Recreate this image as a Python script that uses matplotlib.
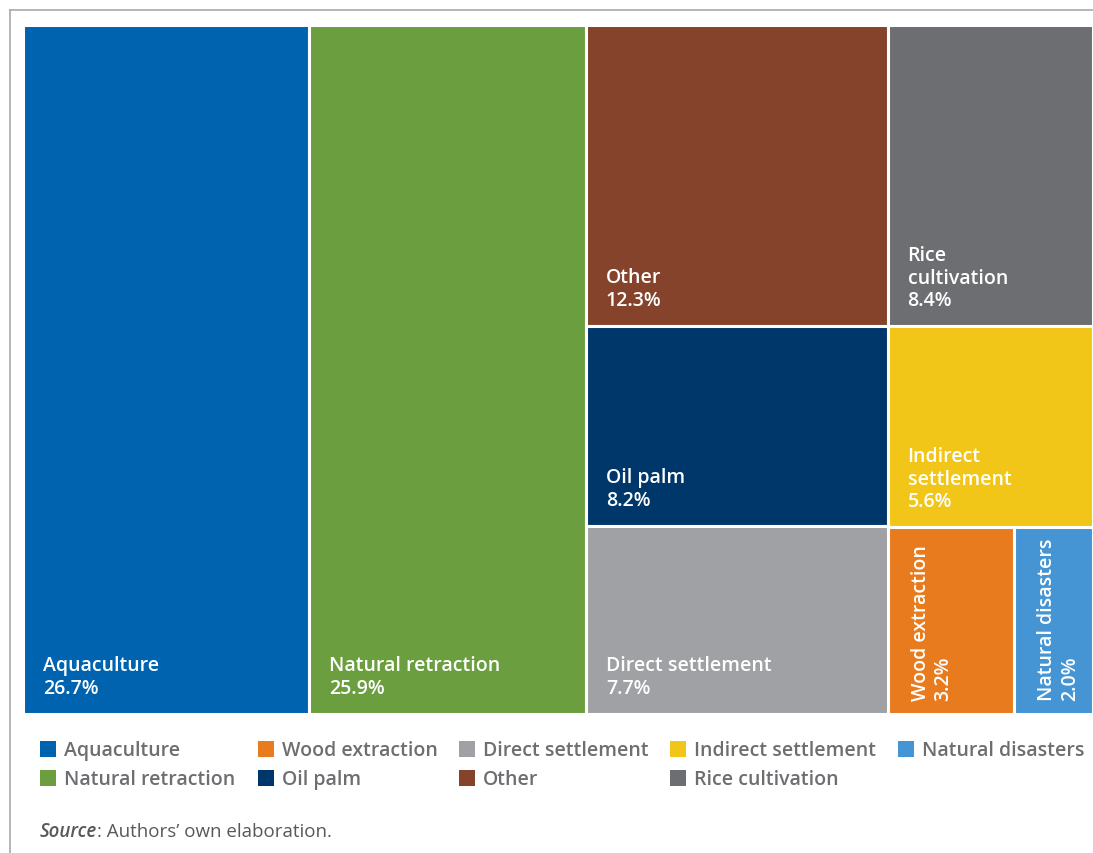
import matplotlib
matplotlib.use("Agg")
import matplotlib.pyplot as plt
from matplotlib.patches import Rectangle
from matplotlib.lines import Line2D
from matplotlib.transforms import offset_copy

# Shares of mangrove loss by driver (%)
categories = ["Aquaculture", "Natural retraction", "Other", "Oil palm",
              "Direct settlement", "Rice cultivation", "Indirect settlement",
              "Wood extraction", "Natural disasters"]
shares = [26.7, 25.9, 12.3, 8.2, 7.7, 8.4, 5.6, 3.2, 2.0]
colors = ["#0063af", "#6b9e3f", "#84432a", "#00376b", "#a0a1a4",
          "#6d6e71", "#f2c618", "#e87b1e", "#4594d3"]
# Wrapped labels for the tiles
tile_labels = ["Aquaculture", "Natural retraction", "Other", "Oil palm",
               "Direct settlement", "Rice\ncultivation", "Indirect\nsettlement",
               "Wood extraction", "Natural disasters"]
# Tile arrangement: columns, each a stack of rows; a tuple row is split side by side
columns = [["Aquaculture"],
           ["Natural retraction"],
           ["Other", "Oil palm", "Direct settlement"],
           ["Rice cultivation", "Indirect settlement",
            ("Wood extraction", "Natural disasters")]]
legend_order = ["Aquaculture", "Natural retraction", "Wood extraction", "Oil palm",
                "Direct settlement", "Other", "Indirect settlement",
                "Rice cultivation", "Natural disasters"]
source_note = ("Source", ": Authors\u2019 own elaboration.")

share = dict(zip(categories, shares))
color = dict(zip(categories, colors))
label = dict(zip(categories, tile_labels))

W, H = 1093, 854
fig = plt.figure(figsize=(W / 100, H / 100), dpi=100)
plt.rcParams["font.family"] = ["Open Sans", "DejaVu Sans"]
FS = 14

ax_l, ax_r, ax_t, ax_b = 23, 1093, 26, 715
ax = fig.add_axes([ax_l / W, 1 - ax_b / H, (ax_r - ax_l) / W, (ax_b - ax_t) / H])
ax.set_xlim(0, 1)
ax.set_ylim(1, 0)
ax.axis("off")

px_w = ax_r - ax_l
total = sum(shares)


def row_value(row):
    if isinstance(row, tuple):
        return sum(share[c] for c in row)
    return share[row]


def draw_tile(name, x0, y0, w, h):
    ax.add_patch(Rectangle((x0, y0), w, h, facecolor=color[name],
                           edgecolor="white", linewidth=2.2))
    txt = f"{label[name]}\n{share[name]:.1f}%"
    if w * px_w < 150:
        tr = offset_copy(ax.transData, fig=fig, x=23, y=14, units="dots")
        ax.text(x0, y0 + h, txt, transform=tr, rotation=90,
                rotation_mode="anchor", ha="left", va="top",
                color="white", fontsize=FS, fontweight="semibold", linespacing=1.18)
    else:
        tr = offset_copy(ax.transData, fig=fig, x=20, y=16, units="dots")
        ax.text(x0, y0 + h, txt, transform=tr, ha="left", va="bottom",
                color="white", fontsize=FS, fontweight="semibold", linespacing=1.18)


x = 0.0
for col in columns:
    col_total = sum(row_value(r) for r in col)
    cw = col_total / total
    y = 0.0
    for row in col:
        rh = row_value(row) / col_total
        if isinstance(row, tuple):
            xx = x
            for name in row:
                ww = cw * share[name] / row_value(row)
                draw_tile(name, xx, y, ww, rh)
                xx += ww
        else:
            draw_tile(row, x, y, cw, rh)
        y += rh
    x += cw

# Legend: two rows, filled column by column
legend_x = [40, 258, 459, 670, 898]
legend_y = [750, 779]
text_color = "#6d6e71"
for i, name in enumerate(legend_order):
    cx = legend_x[i // 2]
    cy = legend_y[i % 2]
    fig.add_artist(Rectangle(((cx) / W, 1 - (cy + 8) / H), 16 / W, 16 / H,
                             facecolor=color[name], edgecolor="none",
                             transform=fig.transFigure))
    fig.text((cx + 24) / W, 1 - (cy + 1) / H, name, ha="left", va="center",
             fontsize=FS, fontweight="semibold", color=text_color)

# Source note
SFS = 13.5
t1 = fig.text(40 / W, 1 - 832 / H, source_note[0], ha="left", va="center",
              fontsize=SFS, fontstyle="italic", fontweight="semibold", color="#58595b")
fig.canvas.draw()
bb = t1.get_window_extent()
fig.text(bb.x1 / W, 1 - 832 / H, source_note[1], ha="left", va="center",
         fontsize=SFS, color="#58595b")

# Outer frame
frame = "#a7a9ac"
fig.add_artist(Line2D([10 / W, 1], [1 - 11 / H, 1 - 11 / H], color=frame,
                      linewidth=1.2, transform=fig.transFigure))
fig.add_artist(Line2D([10 / W, 10 / W], [0, 1 - 11 / H], color=frame,
                      linewidth=1.2, transform=fig.transFigure))

fig.savefig("out.png", dpi=100, facecolor="white")
